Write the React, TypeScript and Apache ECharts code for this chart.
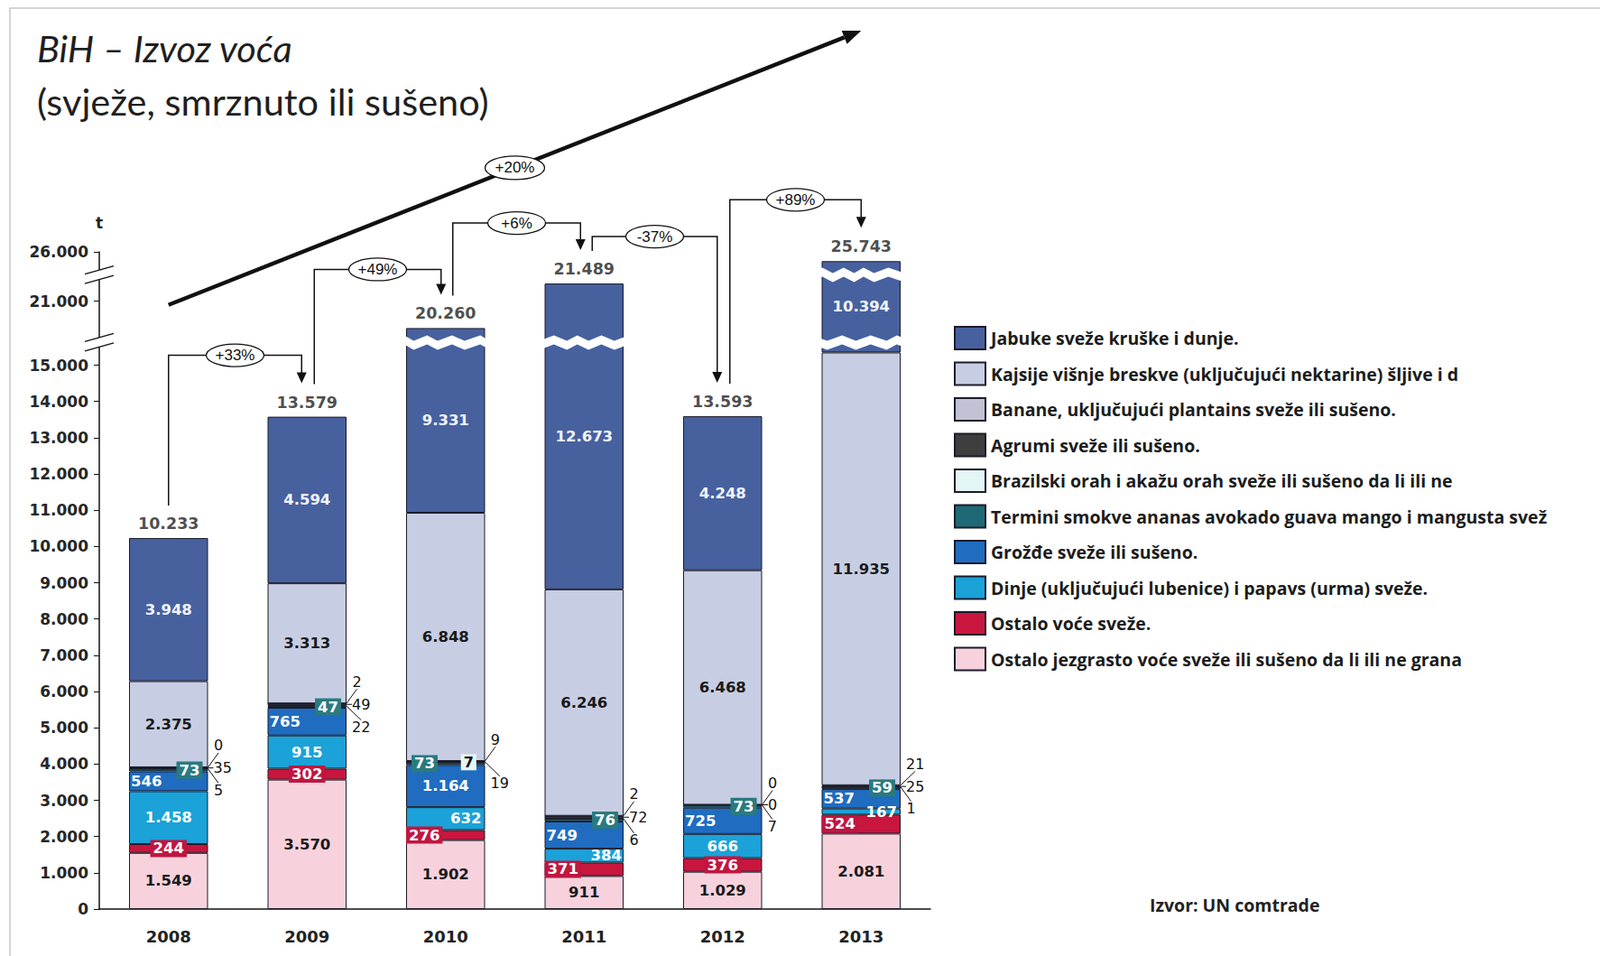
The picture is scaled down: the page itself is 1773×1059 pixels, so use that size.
import React, { useEffect, useRef } from 'react';
import * as echarts from 'echarts';

// ---------- data ----------
const years = ['2008', '2009', '2010', '2011', '2012', '2013'];
const jabuke = [3948, 4594, 9331, 12673, 4248, 10394];
const kajsije = [2375, 3313, 6848, 6246, 6468, 11935];
const banane = [0, 2, 9, 2, 0, 21];
const agrumi = [35, 49, 19, 72, 0, 25];
const brazilski = [5, 22, 7, 6, 7, 1];
const termini = [73, 47, 73, 76, 73, 59];
const grozdje = [546, 765, 1164, 749, 725, 537];
const dinje = [1458, 915, 632, 384, 666, 167];
const ostaloVoce = [244, 302, 276, 371, 376, 524];
const jezgrasto = [1549, 3570, 1902, 911, 1029, 2081];
const totals = [10233, 13579, 20260, 21489, 13593, 25743];
const changeLabels = ['+33%', '+49%', '+6%', '-37%', '+89%'];
const trendLabel = '+20%';
const yTickValues = [0, 1000, 2000, 3000, 4000, 5000, 6000, 7000, 8000, 9000, 10000, 11000, 12000, 13000, 14000, 15000, 21000, 26000];
const axisBreaks = [
  { start: 15500, end: 20000 },
  { start: 21600, end: 25500 },
];

const N = {
  jabuke: 'Jabuke sveže kruške i dunje.',
  kajsije: 'Kajsije višnje breskve (uključujući nektarine) šljive i d',
  banane: 'Banane, uključujući plantains sveže ili sušeno.',
  agrumi: 'Agrumi sveže ili sušeno.',
  brazilski: 'Brazilski orah i akažu orah sveže ili sušeno da li ili ne',
  termini: 'Termini smokve ananas avokado guava mango i mangusta svež',
  grozdje: 'Grožđe sveže ili sušeno.',
  dinje: 'Dinje (uključujući lubenice) i papavs (urma) sveže.',
  ostaloVoce: 'Ostalo voće sveže.',
  jezgrasto: 'Ostalo jezgrasto voće sveže ili sušeno da li ili ne grana',
};

// ---------- styles ----------
const COL = {
  jabuke: '#47619f',
  kajsije: '#c7cee4',
  banane: '#c2c2d4',
  agrumi: '#3e3e3e',
  brazilski: '#e3f5f5',
  termini: '#1d6a76',
  grozdje: '#1f6cc0',
  dinje: '#1ba2d8',
  ostaloVoce: '#c9163f',
  jezgrasto: '#f7d2dd',
};
const GRID = { left: 110, right: 742, top: 279, bottom: 52 };
const LBL_FONT = { fontFamily: 'DejaVu Sans', fontWeight: 'bold', fontSize: 16.5 };
const fmt = (v: number) => String(Math.round(v)).replace(/\B(?=(\d{3})+(?!\d))/g, '.');

type Over = Record<number, any>;
function withOverrides(values: number[], over: Over) {
  return values.map((v, i) => (over[i] ? { value: v, label: over[i] } : v));
}

function barSeries(name: string, values: number[], color: string, label: any, over: Over = {}, extra: any = {}) {
  return {
    name,
    type: 'bar',
    stack: 'fruit',
    barWidth: '57%',
    data: withOverrides(values, over),
    itemStyle: { color, borderColor: '#1b1b29', borderWidth: 1 },
    label: { show: true, ...LBL_FONT, formatter: (p: any) => fmt(p.value), ...label },
    emphasis: { disabled: true },
    ...extra,
  };
}

function smallSeries(name: string, values: number[], color: string, dyDefault: number, dyOver: Over, labelOver: Over = {}) {
  return barSeries(
    name,
    values,
    color,
    { position: 'right', distance: 3, color: '#111', fontWeight: 'normal', fontSize: 16 },
    labelOver,
    {
      labelLayout: (p: any) => {
        if (labelOver[p.dataIndex]) return {};
        const dy = dyOver[p.dataIndex] !== undefined ? dyOver[p.dataIndex] : dyDefault;
        return { dx: 3, dy };
      },
      labelLine: { show: true, lineStyle: { color: '#111', width: 1 } },
    }
  );
}

export default function App() {
  const ref = useRef<HTMLDivElement>(null);
  useEffect(() => {
    if (!ref.current) return;
    const chart = echarts.init(ref.current, null, { renderer: 'svg' });

    const redBox = { backgroundColor: '#c01640', color: '#fff', padding: [1, 3] };
    const series: any[] = [
      barSeries(N.jezgrasto, jezgrasto, COL.jezgrasto, { position: 'inside', color: '#1a1a1a' }),
      barSeries(N.ostaloVoce, ostaloVoce, COL.ostaloVoce, { position: 'inside', ...redBox }, {
        2: { position: 'insideLeft', distance: 0 },
        3: { position: 'insideLeft', distance: 0 },
        5: { position: 'insideLeft', distance: 0 },
      }),
      barSeries(N.dinje, dinje, COL.dinje, { position: 'inside', color: '#fff' }, {
        2: { position: 'insideRight', distance: 4 },
        3: { position: 'insideRight', distance: 2 },
        5: { position: 'insideRight', distance: 4 },
      }),
      barSeries(N.grozdje, grozdje, COL.grozdje, { position: 'insideLeft', distance: 2, color: '#fff' }, {
        2: { position: 'inside' },
      }),
      barSeries(N.termini, termini, COL.termini, { position: 'insideRight', distance: 6, color: '#fff', backgroundColor: '#2a7a80', padding: [1, 3] }, {
        2: { position: 'insideLeft', distance: 6 },
      }),
      smallSeries(N.brazilski, brazilski, COL.brazilski, 24, {}, {
        2: { position: 'insideRight', distance: 10, color: '#111', fontWeight: 'bold', backgroundColor: '#e6f6f4', padding: [1, 3] },
      }),
      smallSeries(N.agrumi, agrumi, COL.agrumi, 0, { 2: 24 }),
      smallSeries(N.banane, banane, COL.banane, -24, {}),
      barSeries(N.kajsije, kajsije, COL.kajsije, { position: 'inside', color: '#1a1a1a' }),
      barSeries(N.jabuke, jabuke, COL.jabuke, { position: 'inside', color: '#f2f4ff' }),
      {
        name: 'Ukupno',
        type: 'scatter',
        data: totals,
        symbolSize: 0,
        silent: true,
        z: 250,
        label: {
          show: true,
          position: 'top',
          distance: 7,
          formatter: (p: any) => fmt(p.value),
          fontFamily: 'DejaVu Sans',
          fontWeight: 'bold',
          fontSize: 17.5,
          color: '#1e1e1e',
        },
      },
    ];

    const option: any = {
      animation: false,
      backgroundColor: '#ffffff',
      title: {
        text: 'BiH – Izvoz voća',
        subtext: '(svježe, smrznuto ili sušeno)',
        left: 36,
        top: 27,
        itemGap: 18,
        textStyle: { fontFamily: 'Lato', fontStyle: 'italic', fontWeight: 'normal', fontSize: 41.5, color: '#1f1f1f' },
        subtextStyle: { fontFamily: 'Lato', fontWeight: 'normal', fontSize: 41.5, color: '#1f1f1f' },
      },
      legend: {
        orient: 'vertical',
        left: 1052,
        top: 356,
        itemWidth: 34,
        itemHeight: 25,
        itemGap: 12.5,
        icon: 'rect',
        selectedMode: false,
        data: [N.jabuke, N.kajsije, N.banane, N.agrumi, N.brazilski, N.termini, N.grozdje, N.dinje, N.ostaloVoce, N.jezgrasto],
        textStyle: { fontFamily: 'Open Sans', fontWeight: 'bold', fontSize: 19.5, color: '#1c1c1c', padding: [0, 0, 0, 1] },
      },
      grid: { ...GRID, containLabel: false },
      xAxis: {
        type: 'category',
        data: years,
        axisLine: { lineStyle: { color: '#111', width: 1.5 } },
        axisTick: { show: false },
        axisLabel: { fontFamily: 'DejaVu Sans', fontWeight: 'bold', fontSize: 18, color: '#222', margin: 21 },
        splitLine: { show: false },
      },
      yAxis: {
        type: 'value',
        min: 0,
        max: 26000,
        interval: 1000,
        name: 't',
        nameLocation: 'end',
        nameGap: 24,
        nameTextStyle: { fontFamily: 'DejaVu Sans', fontWeight: 'bold', fontSize: 17, color: '#222', align: 'center' },
        breaks: axisBreaks.map((b) => ({ ...b, gap: '1.45%' })),
        breakArea: {
          show: true,
          itemStyle: { color: '#ffffff', borderColor: '#ffffff', borderWidth: 0, opacity: 1 },
          zigzagAmplitude: 3,
          zigzagMinSpan: 10,
          zigzagMaxSpan: 18,
          zigzagZ: 100,
          expandOnClick: false,
        },
        axisLine: { show: true, lineStyle: { color: '#111', width: 1.5 } },
        axisTick: { show: true, length: 6, customValues: yTickValues, lineStyle: { color: '#111' } },
        axisLabel: {
          customValues: yTickValues,
          formatter: (v: number) => fmt(v),
          fontFamily: 'DejaVu Sans',
          fontWeight: 'bold',
          fontSize: 17,
          color: '#262626',
          margin: 12,
        },
        splitLine: { show: false },
      },
      series,
    };
    chart.setOption(option);

    // ---------- annotations, positioned through the chart's own scales ----------
    const px = (i: number, v: number) => chart.convertToPixel({ gridIndex: 0 }, [i, v]) as number[];
    const g: any[] = [];
    const Z = 300;
    const black = '#111';
    const pctFont = 'Liberation Sans Narrow, Liberation Sans, sans-serif';

    // outer frame
    g.push({ type: 'rect', silent: true, z: 0, shape: { x: 11, y: 9, width: 1800, height: 1100 }, style: { fill: 'none', stroke: '#c6c6c6', lineWidth: 1.5 } });

    const startDx = [0, 8, 8, 9, 8];
    const endDx = [-6, -5, -4, -6, 0];
    const levelOff = [68, 65, 67, 52, 68];
    for (let i = 0; i < totals.length - 1; i++) {
      const a = px(i, totals[i]);
      const b = px(i + 1, totals[i + 1]);
      const sx = a[0] + startDx[i];
      const sy = a[1] - 36;
      const ly = Math.min(a[1], b[1]) - levelOff[i];
      const ex = b[0] + endDx[i];
      const ty = b[1] - 37;
      g.push({ type: 'polyline', z: Z, silent: true, shape: { points: [[sx, sy], [sx, ly], [ex, ly], [ex, ty - 10]] }, style: { stroke: black, lineWidth: 1.5, fill: null } });
      g.push({ type: 'polygon', z: Z, silent: true, shape: { points: [[ex - 5.5, ty - 12], [ex + 5.5, ty - 12], [ex, ty]] }, style: { fill: black } });
      const mx = (sx + ex) / 2;
      g.push({ type: 'ellipse', z: Z + 1, silent: true, shape: { cx: mx, cy: ly, rx: 32, ry: 12.5 }, style: { fill: '#fff', stroke: black, lineWidth: 1.3 } });
      g.push({ type: 'text', z: Z + 2, silent: true, x: mx, y: ly, style: { text: changeLabels[i], fontFamily: pctFont, fontSize: 17, fill: black, align: 'center', verticalAlign: 'middle' } });
    }

    // trend arrow
    const p0 = px(0, 20900);
    const pTop = px(totals.length - 1, 26000);
    const p1 = [pTop[0], pTop[1] - 245];
    const dx = p1[0] - p0[0];
    const dy = p1[1] - p0[1];
    const len = Math.sqrt(dx * dx + dy * dy);
    const ux = dx / len;
    const uy = dy / len;
    const hl = 20;
    const hw = 8;
    const base = [p1[0] - ux * hl, p1[1] - uy * hl];
    g.push({ type: 'line', z: Z, silent: true, shape: { x1: p0[0], y1: p0[1], x2: base[0], y2: base[1] }, style: { stroke: black, lineWidth: 4.5 } });
    g.push({ type: 'polygon', z: Z, silent: true, shape: { points: [[p1[0], p1[1]], [base[0] - uy * hw, base[1] + ux * hw], [base[0] + uy * hw, base[1] - ux * hw]] }, style: { fill: black } });
    const mid = [(p0[0] + p1[0]) / 2, (p0[1] + p1[1]) / 2];
    g.push({ type: 'ellipse', z: Z + 1, silent: true, shape: { cx: mid[0], cy: mid[1], rx: 33, ry: 13 }, style: { fill: '#fff', stroke: black, lineWidth: 1.3 } });
    g.push({ type: 'text', z: Z + 2, silent: true, x: mid[0], y: mid[1], style: { text: trendLabel, fontFamily: pctFont, fontSize: 17, fill: black, align: 'center', verticalAlign: 'middle' } });

    // axis break marks on the y axis line
    const c0 = px(0, 0);
    const c1 = px(1, 0);
    const axisX = c0[0] - (c1[0] - c0[0]) / 2;
    axisBreaks.forEach((br) => {
      const yT = px(0, br.end)[1];
      const yB = px(0, br.start)[1];
      const w = 16;
      const s = 4.5;
      g.push({ type: 'polygon', z: Z, silent: true, shape: { points: [[axisX - w, yT + s], [axisX + w, yT - s], [axisX + w, yB - s], [axisX - w, yB + s]] }, style: { fill: '#fff' } });
      g.push({ type: 'line', z: Z + 1, silent: true, shape: { x1: axisX - w, y1: yT + s, x2: axisX + w, y2: yT - s }, style: { stroke: black, lineWidth: 1.3 } });
      g.push({ type: 'line', z: Z + 1, silent: true, shape: { x1: axisX - w, y1: yB + s, x2: axisX + w, y2: yB - s }, style: { stroke: black, lineWidth: 1.3 } });
    });

    // source note
    g.push({ type: 'text', z: Z, silent: true, x: 1274, y: 1002, style: { text: 'Izvor: UN comtrade', fontFamily: 'Open Sans', fontWeight: 'bold', fontSize: 19.5, fill: '#222', align: 'left', verticalAlign: 'middle' } });

    chart.setOption({ graphic: g });

    return () => chart.dispose();
  }, []);

  return <div ref={ref} style={{ position: 'fixed', left: 0, top: 0, width: 1773, height: 1059, background: '#fff' }} />;
}
